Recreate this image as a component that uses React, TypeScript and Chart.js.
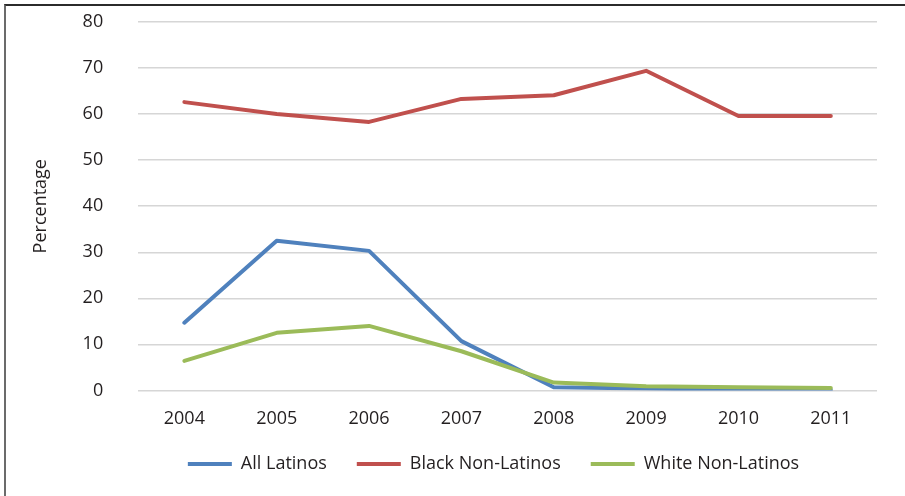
import React, { useEffect, useRef } from "react";
import { Chart, registerables } from "chart.js";

Chart.register(...registerables);

const years = ["2004", "2005", "2006", "2007", "2008", "2009", "2010", "2011"];
const allLatinos = [14.7, 32.5, 30.3, 10.7, 0.7, 0.4, 0.1, 0.1];
const blackNonLatinos = [62.6, 60.0, 58.3, 63.3, 64.1, 69.4, 59.6, 59.6];
const whiteNonLatinos = [6.4, 12.5, 14.0, 8.5, 1.7, 0.9, 0.7, 0.5];
const yMin = 0;
const yMax = 80;
const yStep = 10;

const FONT = "'Open Sans', 'Noto Sans', sans-serif";
const FONT_SIZE = 18;
const TEXT = "#231f20";
const LEGEND_SHIFT_X = 40;
const LEGEND_SHIFT_Y = -9;

const legendShift = {
  id: "legendShift",
  afterLayout(chart: any) {
    const lg = chart.legend;
    if (lg) {
      lg.left += LEGEND_SHIFT_X;
      lg.right += LEGEND_SHIFT_X;
      lg.top += LEGEND_SHIFT_Y;
      lg.bottom += LEGEND_SHIFT_Y;
    }
  },
};

export default function App() {
  const ref = useRef<HTMLCanvasElement | null>(null);

  useEffect(() => {
    if (!ref.current) return;
    const mk = (label: string, data: number[], color: string, order: number) => ({
      label,
      data,
      borderColor: color,
      backgroundColor: color,
      borderWidth: 4,
      pointRadius: 0,
      pointHoverRadius: 0,
      pointStyle: "line" as const,
      borderCapStyle: "round" as const,
      borderJoinStyle: "round" as const,
      tension: 0,
      fill: false,
      order,
    });
    const chart = new Chart(ref.current, {
      type: "line",
      data: {
        labels: years,
        datasets: [
          mk("All Latinos", allLatinos, "#4f81bd", 2),
          mk("Black Non-Latinos", blackNonLatinos, "#c0504d", 1),
          mk("White Non-Latinos", whiteNonLatinos, "#9bbb59", 0),
        ],
      },
      plugins: [legendShift],
      options: {
        responsive: false,
        animation: false,
        layout: { padding: { left: 30, right: 28, top: 22, bottom: 4 } },
        plugins: {
          tooltip: { enabled: false },
          legend: {
            position: "bottom",
            labels: {
              usePointStyle: true,
              pointStyleWidth: 44,
              padding: 30,
              color: TEXT,
              font: { family: FONT, size: FONT_SIZE },
              sort: (a: any, b: any) => a.datasetIndex - b.datasetIndex,
            },
          },
        },
        scales: {
          x: {
            offset: true,
            grid: {
              display: true,
              drawOnChartArea: false,
              drawTicks: true,
              tickLength: 14,
              tickColor: "rgba(0,0,0,0)",
              color: "rgba(0,0,0,0)",
            },
            border: { display: false },
            ticks: { color: TEXT, padding: 4, font: { family: FONT, size: FONT_SIZE } },
          },
          y: {
            min: yMin,
            max: yMax,
            grid: {
              color: "#d6d6d6",
              lineWidth: 1.5,
              drawTicks: true,
              tickLength: 31,
              tickColor: "rgba(0,0,0,0)",
            },
            border: { display: false },
            ticks: { stepSize: yStep, color: TEXT, padding: 4, font: { family: FONT, size: FONT_SIZE } },
            title: {
              display: true,
              text: "Percentage",
              color: TEXT,
              padding: { top: 0, bottom: 27 },
              font: { family: FONT, size: FONT_SIZE },
            },
          },
        },
      },
    });
    return () => chart.destroy();
  }, []);

  return (
    <div>
      <canvas
        ref={ref}
        width={905}
        height={496}
        style={{ position: "fixed", left: 0, top: 0, width: 905, height: 496 }}
      />
      <div
        style={{
          position: "fixed",
          left: 4,
          top: 4,
          width: 901,
          height: 492,
          boxSizing: "border-box",
          borderTop: "2px solid #2b2b2b",
          borderLeft: "2px solid #6b6b6b",
          pointerEvents: "none",
        }}
      />
    </div>
  );
}
